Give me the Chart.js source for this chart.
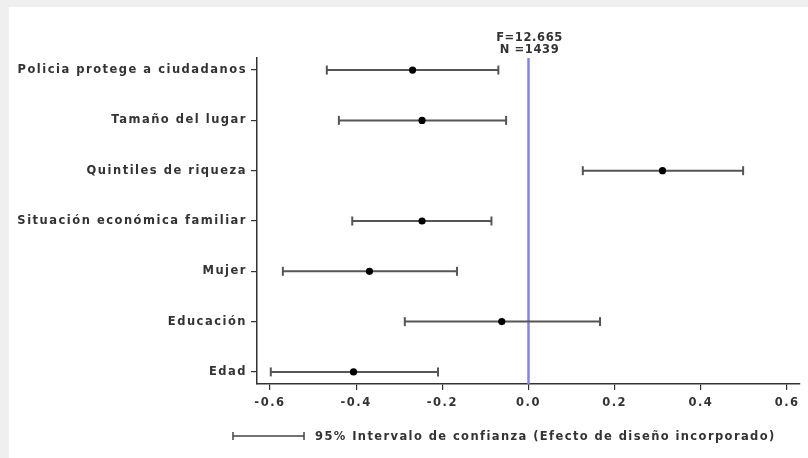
<!DOCTYPE html>
<html>
<head>
<meta charset="utf-8">
<script src="https://cdn.jsdelivr.net/npm/chart.js@4/dist/chart.umd.min.js"></script>
<style>
  html, body { margin: 0; padding: 0; }
  body { width: 808px; height: 458px; background: #efefef; position: relative; overflow: hidden; }
  #panel { position: absolute; left: 9px; top: 7px; right: 0; bottom: 0; background: #ffffff; }
  #chart { position: absolute; left: 0; top: 0; }
</style>
</head>
<body>
<div id="panel"></div>
<canvas id="chart" width="808" height="458"></canvas>
<script>
// Coefficients with 95% confidence intervals (design effect included)
const categories = [
  "Policia protege a ciudadanos",
  "Tamaño del lugar",
  "Quintiles de riqueza",
  "Situación económica familiar",
  "Mujer",
  "Educación",
  "Edad"
];
const estimate = [-0.269, -0.247, 0.311, -0.247, -0.369, -0.062, -0.406];
const lower    = [-0.468, -0.440, 0.126, -0.409, -0.570, -0.287, -0.598];
const upper    = [-0.070, -0.052, 0.498, -0.086, -0.166, 0.166, -0.210];
const xTicks   = [-0.6, -0.4, -0.2, 0.0, 0.2, 0.4, 0.6];
const statLines = ["F=12.665", "N =1439"];
const legendText = "95% Intervalo de confianza (Efecto de diseño incorporado)";

const n = categories.length;
const rowPos = categories.map((_, i) => n - i);

// Interval segments, separated by gaps so each row is its own line
const ciData = [];
categories.forEach((_, i) => {
  ciData.push({ x: lower[i], y: rowPos[i] });
  ciData.push({ x: upper[i], y: rowPos[i] });
  ciData.push({ x: null, y: null });
});
const pointData = categories.map((_, i) => ({ x: estimate[i], y: rowPos[i] }));

const FONT = "'DejaVu Sans', 'Liberation Sans', Arial, sans-serif";
const TEXT_COLOR = '#333333';
const SPACING = '1.5px';

const spacingPlugin = {
  id: 'spacing',
  beforeUpdate(chart) { chart.ctx.letterSpacing = SPACING; },
  beforeDraw(chart) { chart.ctx.letterSpacing = SPACING; }
};

// Vertical reference line at zero
const zeroLine = {
  id: 'zeroLine',
  beforeDatasetsDraw(chart) {
    const { ctx, chartArea, scales } = chart;
    const x = scales.x.getPixelForValue(0);
    ctx.save();
    ctx.strokeStyle = '#8585e0';
    ctx.lineWidth = 2.5;
    ctx.beginPath();
    ctx.moveTo(x, chartArea.top);
    ctx.lineTo(x, chartArea.bottom);
    ctx.stroke();
    ctx.restore();
  }
};

// F statistic and sample size above the zero line, plus the interval key
const notes = {
  id: 'notes',
  afterDraw(chart) {
    const { ctx, chartArea, scales } = chart;
    const x0 = scales.x.getPixelForValue(0);
    ctx.save();
    ctx.letterSpacing = '0.6px';
    ctx.fillStyle = TEXT_COLOR;
    ctx.font = "bold 11.5px " + FONT;
    ctx.textAlign = 'center';
    ctx.textBaseline = 'middle';
    ctx.fillText(statLines[0], x0 + 1, chartArea.top - 20);
    ctx.fillText(statLines[1], x0 + 1, chartArea.top - 8);

    // key: interval symbol and text
    const y = chartArea.bottom + 52;
    const xa = chartArea.left - 24, xb = chartArea.left + 47;
    ctx.strokeStyle = '#444';
    ctx.lineWidth = 1.5;
    ctx.beginPath();
    ctx.moveTo(xa, y); ctx.lineTo(xb, y);
    ctx.moveTo(xa, y - 4); ctx.lineTo(xa, y + 4);
    ctx.moveTo(xb, y - 4); ctx.lineTo(xb, y + 4);
    ctx.stroke();
    ctx.font = "bold 11.5px " + FONT;
    ctx.textAlign = 'left';
    ctx.letterSpacing = '1.4px';
    ctx.fillText(legendText, xb + 11, y + 1);
    ctx.restore();
  }
};

new Chart(document.getElementById('chart'), {
  type: 'scatter',
  data: {
    datasets: [
      {
        type: 'line',
        data: ciData,
        showLine: true,
        spanGaps: false,
        borderColor: '#555555',
        borderWidth: 2,
        pointStyle: 'line',
        rotation: 90,
        pointRadius: 4.5,
        pointBorderWidth: 2,
        pointBorderColor: '#555555',
        pointHoverRadius: 4.5,
        order: 2
      },
      {
        data: pointData,
        pointRadius: 3.6,
        pointHoverRadius: 3.6,
        backgroundColor: '#000000',
        borderColor: '#000000',
        borderWidth: 0,
        order: 1
      }
    ]
  },
  options: {
    responsive: false,
    animation: false,
    devicePixelRatio: 1,
    layout: { padding: { top: 58, right: 8, left: 0, bottom: 0 } },
    plugins: {
      legend: { display: false },
      tooltip: { enabled: false }
    },
    scales: {
      x: {
        type: 'linear',
        min: -0.63,
        max: 0.63,
        afterBuildTicks(scale) { scale.ticks = xTicks.map(v => ({ value: v })); },
        afterFit(scale) { scale.height = 74; },
        ticks: {
          callback: v => Number(v).toFixed(1),
          color: TEXT_COLOR,
          font: { family: FONT, size: 11.5, weight: 'bold' },
          padding: 6,
          maxRotation: 0,
          autoSkip: false
        },
        grid: { display: true, drawOnChartArea: false, drawTicks: true, tickLength: 6, color: '#333', lineWidth: 1.2 },
        border: { display: true, color: '#333', width: 1.5 }
      },
      y: {
        type: 'linear',
        min: 0.76,
        max: 7.24,
        afterBuildTicks(scale) { scale.ticks = rowPos.map(v => ({ value: v })); },
        afterFit(scale) { scale.width = 257; },
        ticks: {
          callback: v => categories[n - v],
          color: TEXT_COLOR,
          font: { family: FONT, size: 11.5, weight: 'bold' },
          padding: 4,
          autoSkip: false
        },
        grid: { display: true, drawOnChartArea: false, drawTicks: true, tickLength: 6, color: '#333', lineWidth: 1.2 },
        border: { display: true, color: '#333', width: 1.5 }
      }
    }
  },
  plugins: [spacingPlugin, zeroLine, notes]
});
</script>
</body>
</html>
